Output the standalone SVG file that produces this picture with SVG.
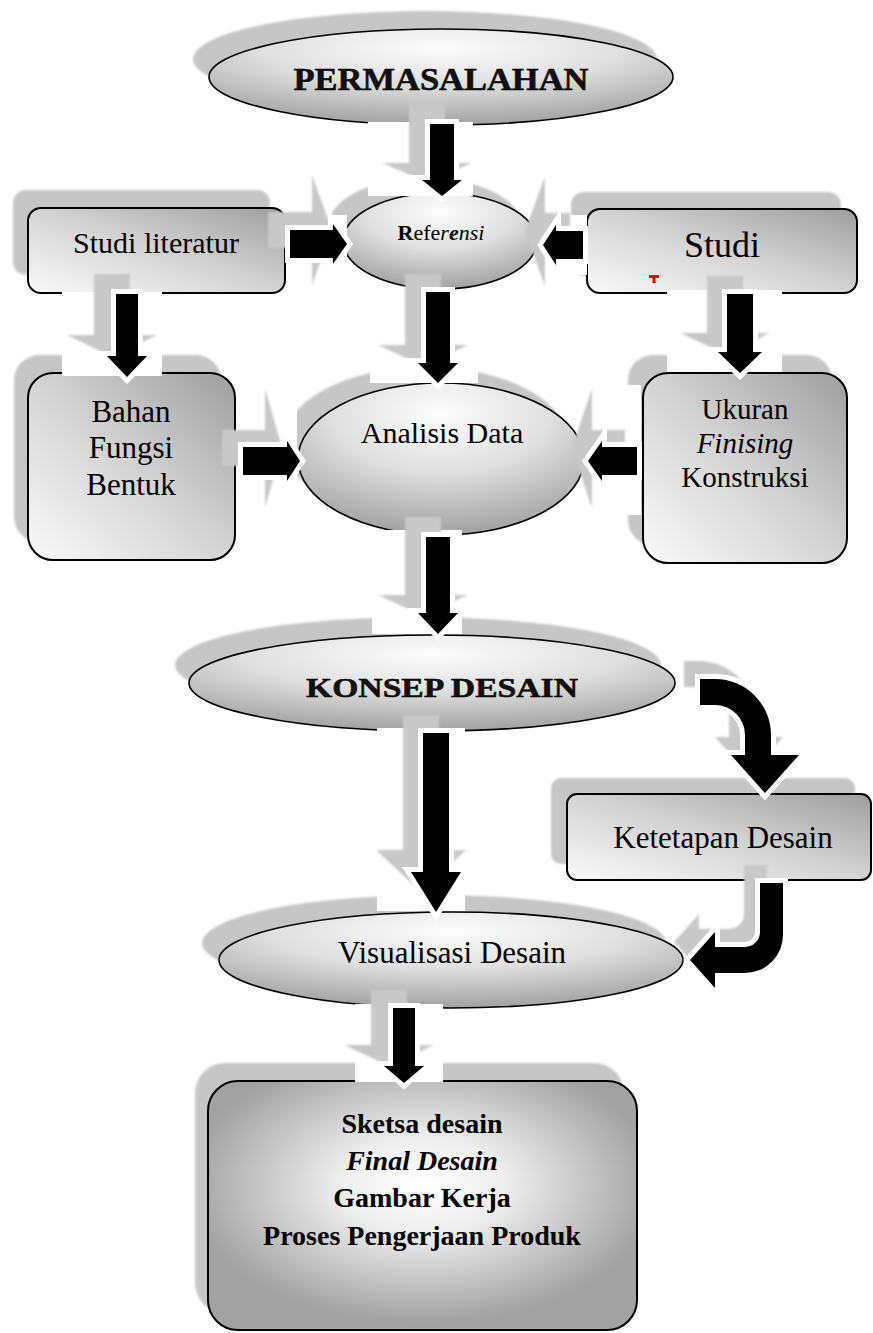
<svg xmlns="http://www.w3.org/2000/svg" width="873" height="1333" viewBox="0 0 873 1333">
<defs>
  <filter id="soft" x="-20%" y="-20%" width="140%" height="140%"><feGaussianBlur stdDeviation="1.2"/></filter>
  <radialGradient id="gEll" cx="50%" cy="20%" r="85%">
    <stop offset="0" stop-color="#fdfdfd"/><stop offset="0.45" stop-color="#e0e0e0"/><stop offset="1" stop-color="#9a9a9a"/>
  </radialGradient>
  <linearGradient id="gBox" x1="0" y1="1" x2="1" y2="0">
    <stop offset="0" stop-color="#fafafa"/><stop offset="0.5" stop-color="#d4d4d4"/><stop offset="1" stop-color="#9e9e9e"/>
  </linearGradient>
  <radialGradient id="gBig" cx="50%" cy="42%" r="55%">
    <stop offset="0" stop-color="#ffffff"/><stop offset="0.35" stop-color="#eeeeee"/><stop offset="1" stop-color="#a2a2a2"/>
  </radialGradient>
</defs>
<style>
  .sh{fill:#c6c6c6;filter:url(#soft)}
  .ell{fill:url(#gEll);stroke:#000;stroke-width:1.6}
  .box{fill:url(#gBox);stroke:#000;stroke-width:2}
  .big{fill:url(#gBig);stroke:#000;stroke-width:2}
  .t{font-family:"Liberation Serif","Times New Roman",serif;fill:#000;text-anchor:middle}
  .deco{font-family:"Liberation Serif","Times New Roman",serif;font-weight:bold;fill:#111;stroke:#000;stroke-width:0.5;text-anchor:middle}
  .patch{fill:#fff}
  .ash{fill:#c8c8c8;filter:url(#soft)}
  .arr{fill:#000;stroke:#fff;stroke-width:10;paint-order:stroke;stroke-linejoin:miter}
</style>
<rect width="873" height="1333" fill="#fff"/>

<g id="node-permasalahan">
  <ellipse class="sh" cx="425" cy="59" rx="232" ry="48"/>
  <ellipse class="ell" cx="441" cy="77" rx="232" ry="48"/>
  <text class="deco" x="441" y="90" font-size="31" textLength="295" lengthAdjust="spacingAndGlyphs">PERMASALAHAN</text>
</g>

<g id="node-referensi">
  <ellipse class="sh" cx="425" cy="226" rx="97" ry="48"/>
  <ellipse class="ell" cx="440" cy="241" rx="97" ry="48"/>
  <text class="t" x="441" y="240" font-size="22"><tspan font-weight="bold">R</tspan>efe<tspan font-style="italic">r</tspan><tspan font-style="italic" font-weight="bold">e</tspan><tspan font-style="italic">nsi</tspan></text>
</g>

<g id="node-studi-literatur">
  <rect class="sh" x="13" y="190" width="257" height="85" rx="13"/>
  <rect class="box" x="28" y="208" width="257" height="85" rx="13"/>
  <text class="t" x="156" y="253" font-size="30">Studi literatur</text>
</g>

<g id="node-studi">
  <rect class="sh" x="571" y="192" width="270" height="84" rx="13"/>
  <rect class="box" x="587" y="209" width="270" height="84" rx="13"/>
  <text class="t" x="722" y="257" font-size="36">Studi</text>
  <rect x="649" y="275" width="10" height="3" fill="#e00000"/>
  <rect x="652.5" y="277" width="3" height="6" fill="#e00000"/>
</g>

<g id="node-bahan">
  <rect class="sh" x="14" y="355" width="207" height="187" rx="25"/>
  <rect class="box" x="28" y="373" width="207" height="187" rx="25"/>
  <text class="t" x="131" y="422" font-size="31">Bahan</text>
  <text class="t" x="131" y="458" font-size="31">Fungsi</text>
  <text class="t" x="131" y="495" font-size="31">Bentuk</text>
</g>

<g id="node-analisis">
  <ellipse class="sh" cx="426" cy="443" rx="143" ry="76"/>
  <ellipse class="ell" cx="441" cy="459" rx="143" ry="76"/>
  <text class="t" x="442" y="443" font-size="30">Analisis Data</text>
</g>

<g id="node-ukuran">
  <rect class="sh" x="628" y="355" width="204" height="190" rx="25"/>
  <rect class="box" x="643" y="373" width="204" height="190" rx="25"/>
  <text class="t" x="745" y="419" font-size="29">Ukuran</text>
  <text class="t" x="745" y="453" font-size="29" font-style="italic">Finising</text>
  <text class="t" x="745" y="487" font-size="29">Konstruksi</text>
</g>

<g id="node-konsep">
  <ellipse class="sh" cx="418" cy="665" rx="243" ry="48"/>
  <ellipse class="ell" cx="432" cy="683" rx="243" ry="48"/>
  <text class="deco" x="442" y="697" font-size="27" textLength="272" lengthAdjust="spacingAndGlyphs">KONSEP DESAIN</text>
</g>

<g id="node-ketetapan">
  <rect class="sh" x="551" y="778" width="304" height="86" rx="10"/>
  <rect class="box" x="567" y="794" width="304" height="86" rx="10"/>
  <text class="t" x="723" y="848" font-size="31">Ketetapan Desain</text>
</g>

<g id="node-visualisasi">
  <ellipse class="sh" cx="434" cy="943" rx="232" ry="48"/>
  <ellipse class="ell" cx="451" cy="960" rx="232" ry="48"/>
  <text class="t" x="452" y="963" font-size="31">Visualisasi Desain</text>
</g>

<g id="node-sketsa">
  <rect class="sh" x="195" y="1063" width="429" height="250" rx="30"/>
  <rect class="big" x="208" y="1081" width="429" height="249" rx="30"/>
  <text class="t" x="422" y="1133" font-size="28" font-weight="bold">Sketsa desain</text>
  <text class="t" x="422" y="1170" font-size="28" font-weight="bold" font-style="italic">Final Desain</text>
  <text class="t" x="422" y="1207" font-size="28" font-weight="bold">Gambar Kerja</text>
  <text class="t" x="422" y="1245" font-size="28" font-weight="bold">Proses Pengerjaan Produk</text>
</g>

<g id="connectors">
  <!-- A1 Permasalahan -> Referensi -->
  <rect class="patch" x="368" y="122" width="105" height="74"/>
  <polygon class="ash" points="409,103 445,103 445,163 472,163 427,182 382,163 409,163"/>
  <polygon class="arr" points="430,124 454,124 454,180 462,180 442,196 422,180 430,180"/>

  <!-- A2 Referensi -> Analisis -->
  <rect class="patch" x="370" y="290" width="108" height="93"/>
  <polygon class="ash" points="405,274 441,274 441,345 468,345 423,366 378,345 405,345"/>
  <polygon class="arr" points="426,292 450,292 450,363 458,363 438,383 418,363 426,363"/>

  <!-- A3 Analisis -> Konsep -->
  <rect class="patch" x="372" y="530" width="90" height="104"/>
  <polygon class="ash" points="405,517 441,517 441,595 468,595 423,616 378,595 405,595"/>
  <polygon class="arr" points="426,537 450,537 450,613 458,613 438,634 418,613 426,613"/>

  <!-- A4 Konsep -> Visualisasi -->
  <rect class="patch" x="377" y="728" width="88" height="183"/>
  <polygon class="ash" points="403,715 439,715 439,850 466,850 421,892 376,850 403,850"/>
  <polygon class="arr" points="423,733 449,733 449,872 461,872 436,912 411,872 423,872"/>

  <!-- A5 Visualisasi -> Sketsa -->
  <rect class="patch" x="355" y="1004" width="88" height="78"/>
  <polygon class="ash" points="371,990 407,990 407,1045 434,1045 389,1066 344,1045 371,1045"/>
  <polygon class="arr" points="393,1008 415,1008 415,1066 424,1066 404,1083 384,1066 393,1066"/>

  <!-- A6 Studi literatur -> Bahan -->
  <rect class="patch" x="62" y="292" width="100" height="84"/>
  <polygon class="ash" points="94,274 130,274 130,335 157,335 112,357 67,335 94,335"/>
  <polygon class="arr" points="116,294 138,294 138,356 147,356 127,377 107,356 116,356"/>

  <!-- A7 Studi -> Ukuran -->
  <rect class="patch" x="667" y="290" width="115" height="82"/>
  <polygon class="ash" points="707,276 743,276 743,333 770,333 725,354 680,333 707,333"/>
  <polygon class="arr" points="727,294 753,294 753,352 762,352 740,373 718,352 727,352"/>

  <!-- A8 Studi literatur -> Referensi -->
  <rect class="patch" x="287" y="215" width="60" height="60"/>
  <polygon class="ash" points="268,212 312,212 312,175 332,230 312,285 312,248 268,248"/>
  <polygon class="arr" points="290,230 333,230 333,224 347,244 333,264 333,258 290,258"/>

  <!-- A9 Studi -> Referensi -->
  <rect class="patch" x="540" y="215" width="47" height="60"/>
  <polygon class="ash" points="570,213 545,213 545,176 525,231 545,286 545,249 570,249"/>
  <polygon class="arr" points="583,231 556,231 556,225 543,245 556,265 556,259 583,259"/>

  <!-- A10 Bahan -> Analisis -->
  <rect class="patch" x="237" y="387" width="60" height="123"/>
  <polygon class="ash" points="222,430 265,430 265,388 282,448 265,508 265,466 222,466"/>
  <polygon class="arr" points="243,447 287,447 287,441 300,461 287,481 287,475 243,475"/>

  <!-- A11 Ukuran -> Analisis -->
  <rect class="patch" x="588" y="385" width="53" height="130"/>
  <polygon class="ash" points="625,430 592,430 592,388 572,448 592,508 592,466 625,466"/>
  <polygon class="arr" points="637,447 602,447 602,441 588,461 602,481 602,475 637,475"/>

  <!-- A12 Konsep -> Ketetapan (curved) -->
  <path class="ash" transform="translate(-16,-18)" d="M700,679 L715,679 A56,56 0 0 1 771,735 L771,755 L799,755 L765,793 L731,755 L745,755 L745,735 A30,30 0 0 0 715,705 L700,705 Z"/>
  <path class="arr" d="M700,679 L715,679 A56,56 0 0 1 771,735 L771,755 L799,755 L765,793 L731,755 L745,755 L745,735 A30,30 0 0 0 715,705 L700,705 Z"/>

  <!-- A13 Ketetapan -> Visualisasi (curved) -->
  <path class="ash" transform="translate(-16,-18)" d="M783,883 L783,935 A38,38 0 0 1 745,973 L715,973 L715,988 L690,960 L715,932 L715,947 L745,947 A15,15 0 0 0 760,932 L760,883 Z"/>
  <path class="arr" d="M783,883 L783,935 A38,38 0 0 1 745,973 L715,973 L715,988 L690,960 L715,932 L715,947 L745,947 A15,15 0 0 0 760,932 L760,883 Z"/>
</g>
</svg>
